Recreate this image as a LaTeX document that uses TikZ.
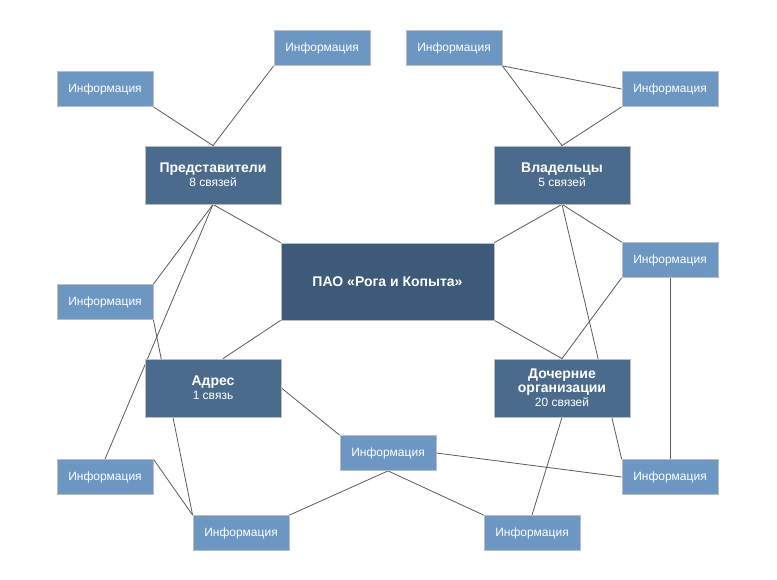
\documentclass[tikz,border=0pt]{standalone}
\usepackage{fontspec}
\setmainfont{Liberation Sans}
\usetikzlibrary{backgrounds}
\definecolor{mainc}{HTML}{3D5A78}
\definecolor{secc}{HTML}{4B6B8D}
\definecolor{infoc}{HTML}{6B97C2}
\definecolor{edgec}{HTML}{BDBDBD}
\definecolor{linec}{HTML}{5A5A5A}
\tikzset{
  base/.style={rectangle, draw=edgec, line width=0.8pt, inner sep=0pt, text=white, align=center},
  mainbox/.style={base, fill=mainc, minimum width=213pt, minimum height=77pt, font=\fontsize{14}{17}\selectfont\bfseries},
  secbox/.style={base, fill=secc, minimum width=136pt, minimum height=58pt, font=\fontsize{14}{15}\selectfont},
  infobox/.style={base, fill=infoc, minimum width=96pt, minimum height=35pt, font=\fontsize{12}{14}\selectfont},
  conn/.style={draw=linec, line width=0.8pt}
}
\newcommand{\sub}[1]{\\[-1pt]{\fontsize{12}{14}\selectfont\mdseries #1}}
\begin{document}
\begin{tikzpicture}[x=1pt,y=-1pt]
\useasboundingbox (0,0) rectangle (777,579);
\node[mainbox] (main) at (387.5,281.5) {ПАО «Рога и Копыта»};
\node[secbox] (pred) at (213,175) {\textbf{Представители}\sub{8 связей}};
\node[secbox] (vlad) at (562,175) {\textbf{Владельцы}\sub{5 связей}};
\node[secbox] (adr) at (213,388) {\textbf{Адрес}\sub{1 связь}};
\node[secbox] (doch) at (562,388) {\textbf{Дочерние}\\[-1pt]\textbf{организации}\sub{20 связей}};
\node[infobox] (i1) at (105,89) {Информация};
\node[infobox] (i2) at (322,48) {Информация};
\node[infobox] (i3) at (454,48) {Информация};
\node[infobox] (i4) at (670,89) {Информация};
\node[infobox] (i5) at (670,260) {Информация};
\node[infobox] (i6) at (105,302) {Информация};
\node[infobox] (i7) at (388,453) {Информация};
\node[infobox] (i8) at (105,477) {Информация};
\node[infobox] (i9) at (241,533) {Информация};
\node[infobox] (i10) at (532,533) {Информация};
\node[infobox] (i11) at (670,477) {Информация};
\begin{scope}[on background layer]
\draw[conn] (i1.south east) -- (pred.north);
\draw[conn] (i2.south west) -- (pred.north);
\draw[conn] (i3.south east) -- (vlad.north);
\draw[conn] (i3.south east) -- (i4.west);
\draw[conn] (i4.south west) -- (vlad.north);
\draw[conn] (pred.south) -- (main.north west);
\draw[conn] (pred.south) -- (i6.north east);
\draw[conn] (pred.south) -- (i8.north);
\draw[conn] (vlad.south) -- (main.north east);
\draw[conn] (vlad.south) -- (i5.north west);
\draw[conn] (vlad.south) -- (i11.north west);
\draw[conn] (i5.south west) -- (doch.north);
\draw[conn] (i5.south) -- (i11.north);
\draw[conn] (main.south east) -- (doch.north);
\draw[conn] (main.south west) -- ([xshift=10pt]adr.north);
\draw[conn] (i6.south east) -- (i9.north west);
\draw[conn] (i8.north east) -- (i9.north west);
\draw[conn] (adr.east) -- (i7.north west);
\draw[conn] (i7.east) -- (i11.west);
\draw[conn] (i7.south) -- (i9.north east);
\draw[conn] (i7.south) -- (i10.north west);
\draw[conn] (doch.south) -- (i10.north);
\end{scope}
\end{tikzpicture}
\end{document}
